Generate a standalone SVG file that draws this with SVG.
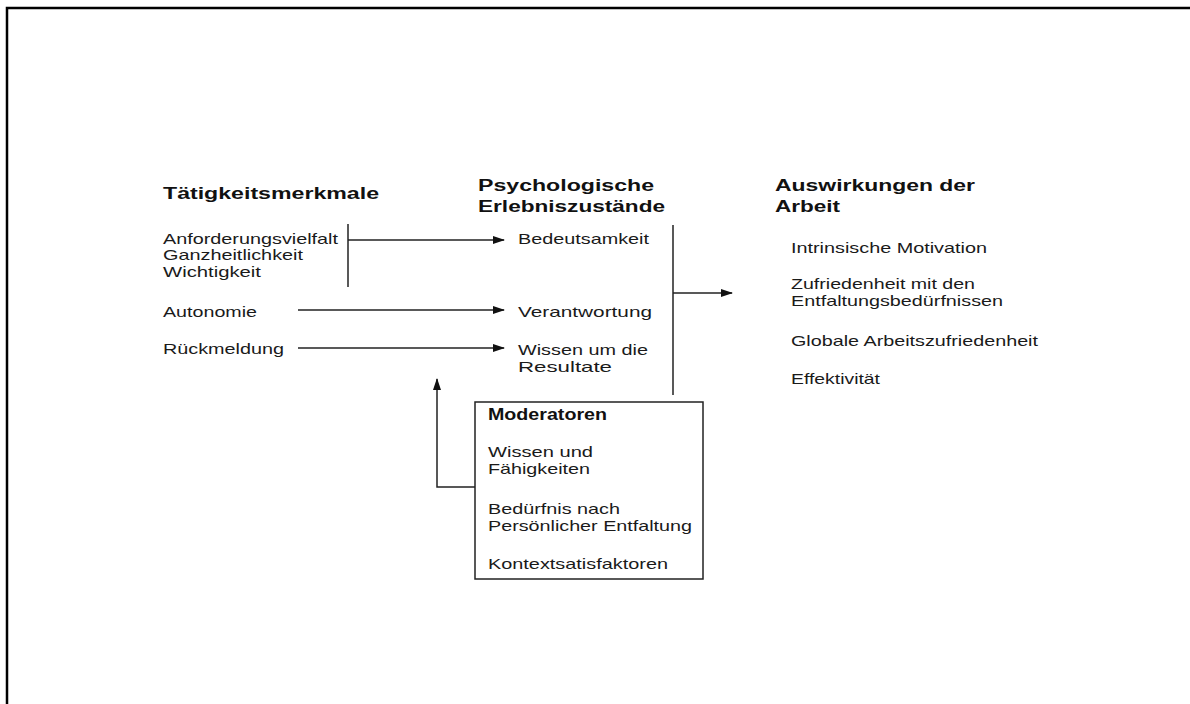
<svg xmlns="http://www.w3.org/2000/svg" width="1190" height="704" viewBox="0 0 1190 704">
<style>
text{font-family:"Liberation Sans",Arial,sans-serif;font-size:15px;fill:#1a1a1a}
.h{font-weight:bold;font-size:16px;fill:#111}
.ln{stroke:#222;stroke-width:1.5;fill:none}
.frame{stroke:#000;stroke-width:2.5;fill:none}
</style>
<defs>
<marker id="ah" markerWidth="12" markerHeight="8" refX="11" refY="4" orient="auto" markerUnits="userSpaceOnUse">
<path d="M0,0 L12,4 L0,8 Z" fill="#111"/>
</marker>
</defs>
<rect width="1190" height="704" fill="#fff"/>
<path class="frame" d="M7,704 V8 H1190"/>
<g id="col1">
<text class="h" x="163" y="199" textLength="216" lengthAdjust="spacingAndGlyphs">Tätigkeitsmerkmale</text>
<text x="163" y="244" textLength="175" lengthAdjust="spacingAndGlyphs">Anforderungsvielfalt</text>
<text x="163" y="260" textLength="140" lengthAdjust="spacingAndGlyphs">Ganzheitlichkeit</text>
<text x="163" y="277" textLength="98" lengthAdjust="spacingAndGlyphs">Wichtigkeit</text>
<text x="163" y="317" textLength="94" lengthAdjust="spacingAndGlyphs">Autonomie</text>
<text x="163" y="354" textLength="121" lengthAdjust="spacingAndGlyphs">Rückmeldung</text>
</g>
<g id="col2">
<text class="h" x="478" y="191" textLength="176" lengthAdjust="spacingAndGlyphs">Psychologische</text>
<text class="h" x="478" y="212" textLength="187" lengthAdjust="spacingAndGlyphs">Erlebniszustände</text>
<text x="518" y="244" textLength="131" lengthAdjust="spacingAndGlyphs">Bedeutsamkeit</text>
<text x="518" y="317" textLength="134" lengthAdjust="spacingAndGlyphs">Verantwortung</text>
<text x="518" y="355" textLength="130" lengthAdjust="spacingAndGlyphs">Wissen um die</text>
<text x="518" y="372" textLength="94" lengthAdjust="spacingAndGlyphs">Resultate</text>
</g>
<g id="col3">
<text class="h" x="775" y="191" textLength="200" lengthAdjust="spacingAndGlyphs">Auswirkungen der</text>
<text class="h" x="775" y="212" textLength="65" lengthAdjust="spacingAndGlyphs">Arbeit</text>
<text x="791" y="253" textLength="196" lengthAdjust="spacingAndGlyphs">Intrinsische Motivation</text>
<text x="791" y="289" textLength="184" lengthAdjust="spacingAndGlyphs">Zufriedenheit mit den</text>
<text x="791" y="306" textLength="212" lengthAdjust="spacingAndGlyphs">Entfaltungsbedürfnissen</text>
<text x="791" y="346" textLength="247" lengthAdjust="spacingAndGlyphs">Globale Arbeitszufriedenheit</text>
<text x="791" y="384" textLength="89" lengthAdjust="spacingAndGlyphs">Effektivität</text>
</g>
<g id="moderatoren">
<rect class="ln" x="475" y="402" width="228" height="177"/>
<text class="h" x="488" y="420" font-size="15" textLength="119" lengthAdjust="spacingAndGlyphs">Moderatoren</text>
<text x="488" y="457" textLength="105" lengthAdjust="spacingAndGlyphs">Wissen und</text>
<text x="488" y="474" textLength="102" lengthAdjust="spacingAndGlyphs">Fähigkeiten</text>
<text x="488" y="514" textLength="132" lengthAdjust="spacingAndGlyphs">Bedürfnis nach</text>
<text x="488" y="531" textLength="204" lengthAdjust="spacingAndGlyphs">Persönlicher Entfaltung</text>
<text x="488" y="569" textLength="180" lengthAdjust="spacingAndGlyphs">Kontextsatisfaktoren</text>
</g>
<g id="connectors">
<line class="ln" x1="348" y1="224" x2="348" y2="287"/>
<line class="ln" x1="348" y1="240" x2="504" y2="240" marker-end="url(#ah)"/>
<line class="ln" x1="298" y1="310" x2="504" y2="310" marker-end="url(#ah)"/>
<line class="ln" x1="298" y1="348" x2="504" y2="348" marker-end="url(#ah)"/>
<line class="ln" x1="673" y1="225" x2="673" y2="395"/>
<line class="ln" x1="673" y1="293" x2="732" y2="293" marker-end="url(#ah)"/>
<polyline class="ln" points="475,487 437,487 437,379" marker-end="url(#ah)"/>
</g>
</svg>
